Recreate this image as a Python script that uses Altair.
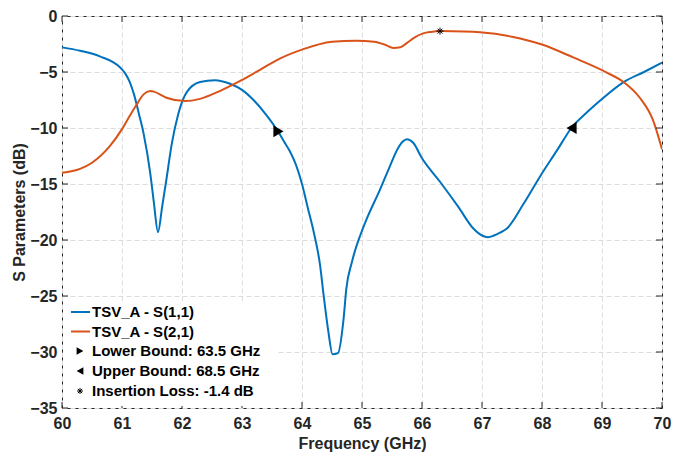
import altair as alt
import pandas as pd

# ---------------- data ----------------
s11_freq = [60.0, 60.3, 60.63, 60.97, 61.05, 61.13, 61.2, 61.28, 61.36, 61.47, 61.53, 61.6, 61.67, 61.74,
            61.83, 61.94, 62.08, 62.3, 62.55, 62.8, 63.0, 63.2, 63.4, 63.6, 63.7, 63.8, 63.9, 64.0,
            64.1, 64.2, 64.3, 64.36, 64.44, 64.51, 64.6, 64.69, 64.74, 64.83, 64.91, 64.97, 65.08,
            65.3, 65.45, 65.6, 65.68, 65.75, 65.85, 66.0, 66.3, 66.6, 66.86, 67.0, 67.1,
            67.2, 67.3, 67.41, 67.7, 67.97, 68.25, 68.49, 68.75, 68.97, 69.36, 69.7, 70.0]
s11_db = [-2.8, -3.1, -3.6, -4.6, -5.1, -5.9, -7.0, -8.7, -10.5, -14.0, -16.6, -19.3, -17.0, -14.6,
          -11.4, -8.7, -6.8, -5.9, -5.73, -6.05, -6.6, -7.55, -8.8, -10.3, -11.2, -12.1, -13.3, -15.0,
          -17.2, -19.4, -22.2, -24.9, -28.2, -30.2, -30.1, -27.2, -24.3, -22.0, -20.5, -19.6, -18.1,
          -15.5, -13.6, -11.8, -11.2, -11.0, -11.3, -12.7, -14.8, -17.0, -19.0, -19.6, -19.75,
          -19.6, -19.35, -19.0, -16.7, -14.3, -12.0, -10.0, -8.6, -7.55, -5.9, -5.0, -4.17]

s21_freq = [60.0, 60.3, 60.5, 60.8, 61.0, 61.13, 61.24, 61.36, 61.47, 61.53, 61.74, 62.05,
            62.3, 62.63, 62.97, 63.3, 63.63, 64.0, 64.5, 64.9, 65.2, 65.4, 65.52, 65.64,
            65.75, 65.88, 66.02, 66.15, 66.3, 66.7, 66.97, 67.5, 68.0, 68.52, 69.08, 69.36,
            69.63, 69.85, 70.0]
s21_db = [-14.0, -13.65, -13.1, -11.6, -10.1, -8.9, -7.95, -7.0, -6.7, -6.75, -7.3, -7.6,
          -7.4, -6.7, -5.8, -4.8, -3.8, -3.0, -2.3, -2.2, -2.3, -2.6, -2.85, -2.8,
          -2.4, -1.9, -1.55, -1.42, -1.35, -1.38, -1.45, -1.85, -2.55, -3.7, -5.05, -5.9,
          -7.3, -9.3, -11.9]

series_names = ["TSV_A - S(1,1)", "TSV_A - S(2,1)"]
series_colors = ["#0072BD", "#D95319"]

lower_bound = [63.6, -10.3]
upper_bound = [68.5, -10.0]
insertion_loss = [66.3, -1.35]

legend_labels = ["TSV_A - S(1,1)", "TSV_A - S(2,1)", "Lower Bound: 63.5 GHz",
                 "Upper Bound: 68.5 GHz", "Insertion Loss: -1.4 dB"]

x_ticks = [60, 61, 62, 63, 64, 65, 66, 67, 68, 69, 70]
y_ticks = [-35, -30, -25, -20, -15, -10, -5, 0]

# ---------------- layout ----------------
W, H = 600, 392
FONT = "Liberation Sans"
TXT = "#262626"
ASTERISK = "M-1,0L1,0M0,-1L0,1M-0.7,-0.7L0.7,0.7M-0.7,0.7L0.7,-0.7"

lines_df = pd.concat([
    pd.DataFrame({"f": s11_freq, "db": s11_db, "series": series_names[0]}),
    pd.DataFrame({"f": s21_freq, "db": s21_db, "series": series_names[1]}),
])

xscale = alt.Scale(domain=[60, 70], nice=False, zero=False)
yscale = alt.Scale(domain=[-35, 0], nice=False, zero=False)

xaxis = alt.Axis(title="Frequency (GHz)", values=x_ticks, format="d", grid=True,
                 ticks=False, domain=False, labelFlush=False, labelPadding=7, titlePadding=4)
yaxis = alt.Axis(title="S Parameters (dB)", values=y_ticks, format="d", grid=True,
                 ticks=False, domain=False, labelFlush=False, labelPadding=5, titlePadding=2)

X = alt.X("f:Q", scale=xscale, axis=xaxis)
Y = alt.Y("db:Q", scale=yscale, axis=yaxis)

lines = alt.Chart(lines_df).mark_line(strokeWidth=2, interpolate="monotone", clip=True).encode(
    x=X, y=Y,
    color=alt.Color("series:N", scale=alt.Scale(domain=series_names, range=series_colors), legend=None),
    detail="series:N",
)

def pt(vals, shape, filled, size, sw=1):
    df = pd.DataFrame({"f": [vals[0]], "db": [vals[1]]})
    if filled:
        m = alt.Chart(df).mark_point(shape=shape, filled=True, fill="black", stroke="black",
                                     size=size, opacity=1)
    else:
        m = alt.Chart(df).mark_point(shape=shape, filled=False, fill="transparent", stroke="black",
                                     strokeWidth=sw, size=size, opacity=1)
    return m.encode(x=alt.X("f:Q", scale=xscale), y=alt.Y("db:Q", scale=yscale))

markers = [
    pt(lower_bound, "triangle-right", True, 70),
    pt(upper_bound, "triangle-left", True, 70),
    pt(insertion_loss, ASTERISK, False, 50),
]

# inward ticks on all four sides
xt = pd.DataFrame({"f": x_ticks})
yt = pd.DataFrame({"db": y_ticks})
ticks = []
for yy in [H - 3, 3]:
    ticks.append(alt.Chart(xt).mark_tick(orient="vertical", size=6, thickness=1, color=TXT, opacity=1)
                 .encode(x=alt.X("f:Q", scale=xscale), y=alt.value(yy)))
for xx in [3, W - 3]:
    ticks.append(alt.Chart(yt).mark_tick(orient="horizontal", size=6, thickness=1, color=TXT, opacity=1)
                 .encode(y=alt.Y("db:Q", scale=yscale), x=alt.value(xx)))

# legend (drawn manually, like MATLAB's boxless legend with white background)
one = pd.DataFrame({"a": [0]})
leg = [alt.Chart(one).mark_rect(fill="white").encode(
    x=alt.value(1), x2=alt.value(214), y=alt.value(285), y2=alt.value(390))]
row_y = [296, 315.5, 335, 355, 375]
for i, lab in enumerate(legend_labels):
    ldf = pd.DataFrame({"label": [lab]})
    leg.append(alt.Chart(ldf).mark_text(align="left", baseline="middle", font=FONT,
                                        fontWeight="bold", fontSize=15, color="black")
               .encode(x=alt.value(30), y=alt.value(row_y[i]), text="label:N"))
for i in range(2):
    leg.append(alt.Chart(one).mark_rule(strokeWidth=2, color=series_colors[i])
               .encode(x=alt.value(9), x2=alt.value(28), y=alt.value(row_y[i])))
leg.append(alt.Chart(one).mark_point(shape="triangle-right", filled=True, fill="black", size=60, opacity=1)
           .encode(x=alt.value(18), y=alt.value(row_y[2])))
leg.append(alt.Chart(one).mark_point(shape="triangle-left", filled=True, fill="black", size=60, opacity=1)
           .encode(x=alt.value(18), y=alt.value(row_y[3])))
leg.append(alt.Chart(one).mark_point(shape=ASTERISK, filled=False, fill="transparent", stroke="black",
                                     strokeWidth=1, size=36, opacity=1)
           .encode(x=alt.value(18), y=alt.value(row_y[4])))

chart = alt.layer(lines, *markers, *ticks, *leg).properties(
    width=W, height=H,
    background="white",
    padding={"left": 54, "top": 8, "right": 19, "bottom": 48},
    autosize=alt.AutoSizeParams(type="none"),
).configure_view(
    stroke=TXT, strokeWidth=1
).configure_axis(
    labelFont=FONT, labelFontWeight="bold", labelFontSize=16, labelColor=TXT,
    titleFont=FONT, titleFontWeight="bold", titleFontSize=16, titleColor=TXT,
    gridColor="#dcdcdc", gridDash=[5, 3], gridWidth=1, gridOpacity=1,
)

chart.save("out.html", embed_options={"renderer": "svg", "actions": False})
